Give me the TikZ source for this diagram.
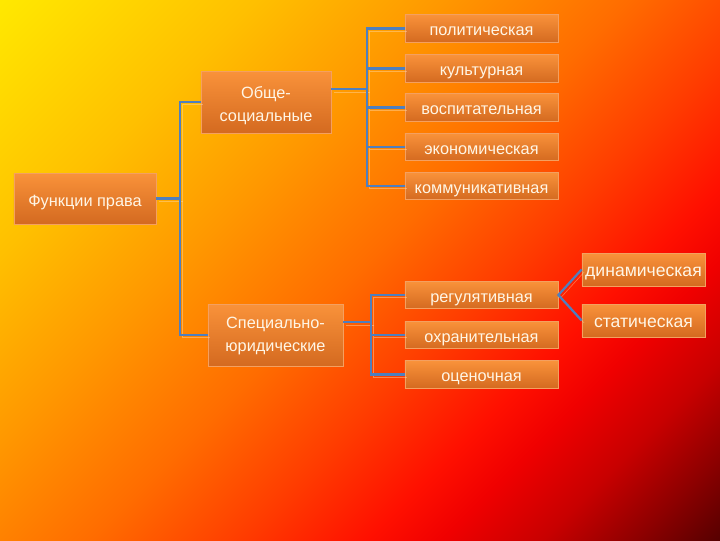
\documentclass[tikz,border=0pt]{standalone}
\usepackage{fontspec}
\setmainfont{Liberation Sans}

\definecolor{bgA}{HTML}{FFE800}
\definecolor{bgB}{HTML}{FFC000}
\definecolor{bgC}{HTML}{FF9800}
\definecolor{bgD}{HTML}{FF6C00}
\definecolor{bgE}{HTML}{FF3C00}
\definecolor{bgF}{HTML}{FF1000}
\definecolor{bgG}{HTML}{F00000}
\definecolor{bgH}{HTML}{C80000}
\definecolor{bgI}{HTML}{8C0000}
\definecolor{bgJ}{HTML}{580000}
\definecolor{boxtop}{HTML}{F9923A}
\definecolor{boxbot}{HTML}{D46A20}
\definecolor{boxedge}{HTML}{F4A060}
\definecolor{boxtext}{HTML}{FFF6E6}
\definecolor{linkblue}{HTML}{4F7FBF}
\definecolor{linkshade}{HTML}{FFD9A8}

\pgfdeclarehorizontalshading{backdrop}{100bp}{color(0bp)=(bgA); color(14.64bp)=(bgA);
  color(28.78bp)=(bgB); color(39.39bp)=(bgC); color(50bp)=(bgD); color(58.48bp)=(bgE);
  color(65.55bp)=(bgF); color(69.80bp)=(bgG); color(75.5bp)=(bgH); color(80.9bp)=(bgI);
  color(85.36bp)=(bgJ); color(100bp)=(bgJ)}

\begin{document}
\begin{tikzpicture}[
    x=0.025cm, y=-0.025cm,
    box/.style={draw=boxedge, line width=0.5pt, top color=boxtop, bottom color=boxbot,
      text=boxtext, align=center, inner sep=0pt, font=\fontsize{11.6}{16.6}\selectfont},
    leaf/.style={box, minimum width=3.825cm, text height=14.9pt, text depth=4.6pt},
    subleaf/.style={box, minimum width=3.075cm, text height=17pt, text depth=6.4pt,
      font=\fontsize{12.5}{15}\selectfont},
    link/.style={draw=linkblue, line width=1.6pt,
      preaction={draw=linkshade, opacity=0.45, transform canvas={shift={(1.8pt,-1.8pt)}}}}
    ]
    % background
    \shade[shading=backdrop, shading angle=-45] (0,0) rectangle (720,540);

    % main boxes
    \node[box, minimum width=3.55cm, text height=23.4pt, text depth=12.7pt] (root) at (85,198.5) {Функции права};
    \node[box, minimum width=3.25cm, text height=36.1pt, text depth=7.8pt] (obs) at (266,102) {Обще-\\социальные};
    \node[box, minimum width=3.375cm, text height=34pt, text depth=9.9pt] (spec) at (275.5,335) {Специально-\\юридические};

    % general functions
    \node[leaf] (pol) at (481.5,28.5) {политическая};
    \node[leaf] (kul) at (481.5,68.5) {культурная};
    \node[leaf] (vos) at (481.5,107.5) {воспитательная};
    \node[leaf] (eko) at (481.5,147) {экономическая};
    \node[leaf] (kom) at (481.5,186) {коммуникативная};

    % special functions
    \node[leaf] (reg) at (481.5,295) {регулятивная};
    \node[leaf] (ohr) at (481.5,335) {охранительная};
    \node[leaf] (oce) at (481.5,374.5) {оценочная};
    \node[subleaf] (dyn) at (643.5,269.5) {динамическая};
    \node[subleaf] (sta) at (643.5,320.5) {статическая};

    % buses
    \coordinate (busA) at (180,0);
    \coordinate (busB) at (367,0);
    \coordinate (busC) at (371,0);

    % links
    \draw[link] (root.east) -- (root.east -| busA);
    \draw[link] (obs.west) -| (busA |- spec.west) -- (spec.west);
    \draw[link] ([yshift=9pt]obs.east) -- ([yshift=9pt]obs.east -| busB);
    \draw[link] (pol.west) -| (busB |- kom.west) -- (kom.west);
    \foreach \n in {kul,vos,eko}
      \draw[link] (\n.west) -- (\n.west -| busB);
    \draw[link] ([yshift=9pt]spec.east) -- ([yshift=9pt]spec.east -| busC);
    \draw[link] (reg.west) -| (busC |- oce.west) -- (oce.west);
    \draw[link] (ohr.west) -- (ohr.west -| busC);
    \draw[link] (dyn.west) -- (reg.east) -- (sta.west);
\end{tikzpicture}
\end{document}
